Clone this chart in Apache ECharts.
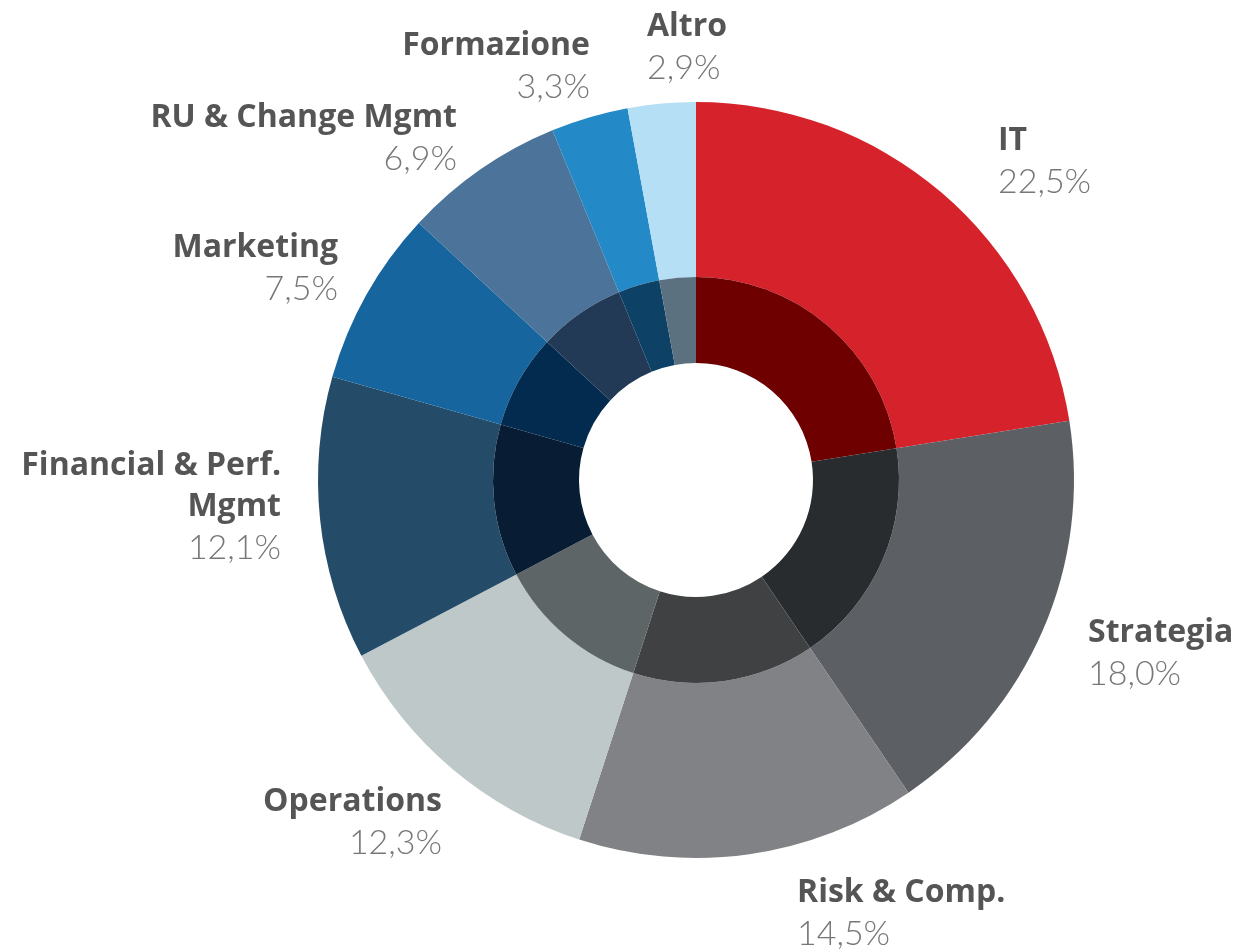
<!DOCTYPE html>
<html>
<head>
<meta charset="UTF-8">
<title>Ripartizione</title>
<script type="text/javascript" src="https://cdn.jsdelivr.net/npm/echarts@6/dist/echarts.min.js"></script>
<style>
html,body{margin:0;padding:0;background:#fff;}
</style>
</head>
<body>
<div id="mychar" style="width:1243px;height:950px;"></div>

<script type="text/javascript">

// dati
var categorie = ['IT', 'Strategia', 'Risk & Comp.', 'Operations', 'Financial & Perf.\nMgmt', 'Marketing', 'RU & Change Mgmt', 'Formazione', 'Altro'];
var valori = [22.5, 18.0, 14.5, 12.3, 12.1, 7.5, 6.9, 3.3, 2.9];

var coloriEsterni = ['#d6232b', '#5c5f64', '#808286', '#bec8c8', '#244c69', '#17659e', '#4c7399', '#2489c7', '#b5dff5'];
var coloriInterni = ['#6e0000', '#282c2f', '#404142', '#5e6566', '#081d33', '#032b4f', '#223a55', '#0d4266', '#5b7180'];

// posizione etichette: [x, y top, allineamento]
var posEtichette = [
  [998, 120, 'left'],
  [1088, 612, 'left'],
  [797, 872, 'left'],
  [442, 781, 'right'],
  [281, 445, 'right'],
  [338, 227, 'right'],
  [457, 97, 'right'],
  [590, 25, 'right'],
  [647, 6, 'left']
];

var mychart = echarts.init(document.getElementById('mychar'));

function fmt(v) {
  return v.toFixed(1).replace('.', ',') + '%';
}

var datiEsterni = categorie.map(function (c, i) {
  return { name: c, value: valori[i], itemStyle: { color: coloriEsterni[i] } };
});
var datiInterni = categorie.map(function (c, i) {
  return { name: c, value: valori[i], itemStyle: { color: coloriInterni[i] } };
});

var option = {
  animation: false,
  series: [{
    name: 'esterno',
    type: 'pie',
    center: [696, 480],
    radius: [203, 378],
    startAngle: 90,
    clockwise: true,
    silent: true,
    avoidLabelOverlap: false,
    data: datiEsterni,
    labelLine: { show: false },
    label: {
      show: true,
      position: 'outside',
      overflow: 'none',
      width: 400,
      formatter: function (p) {
        var righe = p.name.split('\n').map(function (r) { return '{n|' + r + '}'; });
        return righe.join('\n') + '\n{p|' + fmt(p.value) + '}';
      },
      rich: {
        n: { fontFamily: 'Open Sans', fontWeight: 'bold', fontSize: 32, color: '#555555', lineHeight: 41 },
        p: { fontFamily: 'Lato', fontWeight: 300, fontSize: 34, color: '#777777', lineHeight: 42 }
      }
    },
    labelLayout: function (params) {
      var pos = posEtichette[params.dataIndex];
      return { x: pos[0], y: pos[1], align: pos[2], verticalAlign: 'top', hideOverlap: false };
    }
  }, {
    name: 'interno',
    type: 'pie',
    center: [696, 480],
    radius: [117, 203],
    startAngle: 90,
    clockwise: true,
    silent: true,
    data: datiInterni,
    label: { show: false },
    labelLine: { show: false }
  }]
};

mychart.setOption(option);
</script>
</body>
</html>
